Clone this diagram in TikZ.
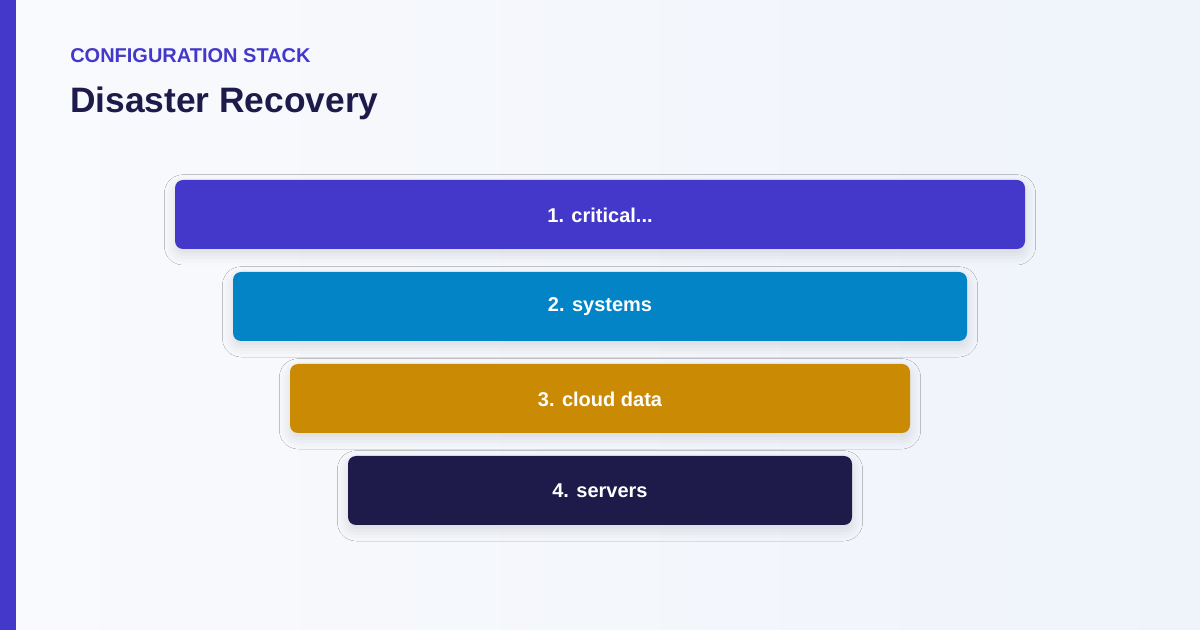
\documentclass[tikz,border=0pt]{standalone}
\usepackage{fontspec}
\setmainfont{Liberation Sans}
\usetikzlibrary{shadows.blur}
\definecolor{bgA}{HTML}{F9FAFD}
\definecolor{bgB}{HTML}{EFF4FB}
\definecolor{indigo}{HTML}{4338CA}
\definecolor{sky}{HTML}{0284C7}
\definecolor{amber}{HTML}{CA8A04}
\definecolor{navy}{HTML}{1E1B4B}
\begin{document}
\begin{tikzpicture}[x=0.75pt,y=-0.75pt,
  bar/.style={rounded corners=6pt,draw=none,blur shadow={shadow xshift=0pt,shadow yshift=-4pt,shadow opacity=12,shadow blur radius=8pt}},
  lbl/.style={text=white,font=\bfseries\fontsize{15}{18}\selectfont}]
\shade[left color=bgA,right color=bgB] (0,0) rectangle (1200,630);
\useasboundingbox (0,0) rectangle (1200,630);
\fill[indigo] (0,0) rectangle (16,630);
\node[anchor=base west,inner sep=0,text=indigo,font=\bfseries\fontsize{15}{18}\selectfont] (sub) at (70,63) {CONFIGURATION STACK};
\node[anchor=base west,inner sep=0,text=navy,font=\bfseries\fontsize{26.5}{30}\selectfont] (title) at (70,113) {Disaster Recovery};
\fill[indigo,bar] (175,180) rectangle (1025,249);
\node[lbl] (b1) at (600,215) {1. critical...};
\fill[sky,bar] (233,272) rectangle (967,341);
\node[lbl] (b2) at (600,307) {2. systems};
\fill[amber,bar] (290,364) rectangle (910,433);
\node[lbl] (b3) at (600,399) {3. cloud data};
\fill[navy,bar] (348,456) rectangle (852,525);
\node[lbl] (b4) at (600,491) {4. servers};
\end{tikzpicture}
\end{document}
